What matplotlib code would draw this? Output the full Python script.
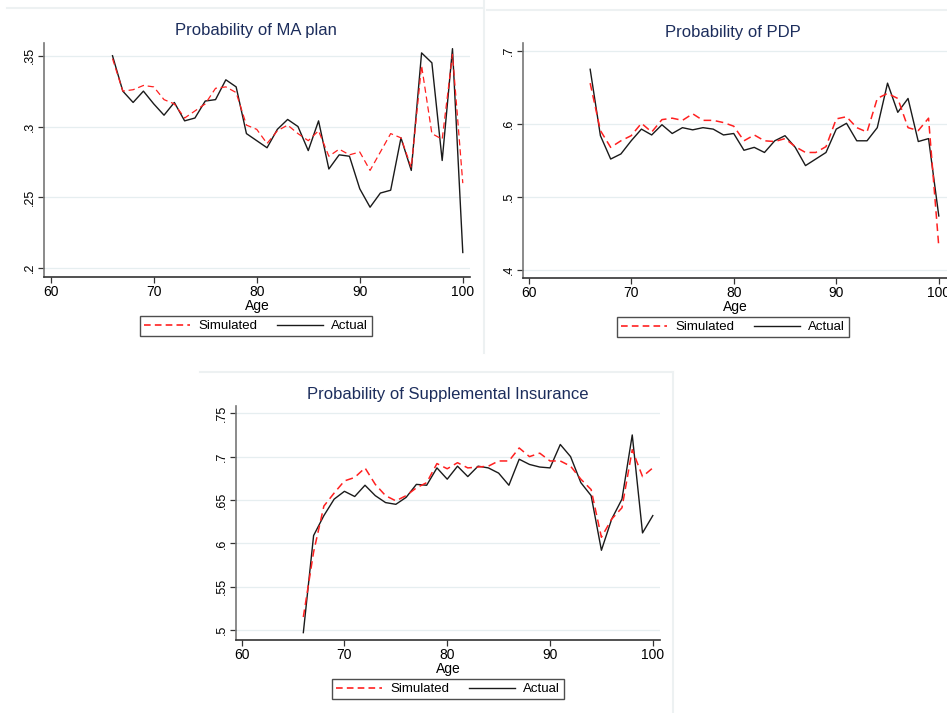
import matplotlib.pyplot as plt
from matplotlib.lines import Line2D
import numpy as np

plt.rcParams["font.family"] = ["Liberation Sans", "DejaVu Sans"]

ages = np.arange(66, 101)

ma_simulated = [.348, .325, .326, .329, .328, .319, .316, .306, .311, .316,
                .327, .328, .324, .301, .298, .288, .297, .301, .295, .290,
                .297, .279, .284, .280, .282, .269, .282, .295, .292, .271,
                .343, .295, .291, .351, .260]
ma_actual = [.350, .325, .317, .325, .316, .308, .317, .304, .306, .318,
             .319, .333, .328, .295, .290, .285, .298, .305, .300, .283,
             .304, .270, .280, .279, .256, .243, .253, .255, .292, .269,
             .352, .345, .276, .355, .211]

pdp_simulated = [.656, .591, .568, .577, .584, .601, .589, .606, .608, .605,
                 .614, .605, .605, .602, .597, .577, .585, .577, .576, .580,
                 .569, .561, .561, .569, .607, .610, .595, .589, .635, .642,
                 .635, .595, .591, .608, .432]
pdp_actual = [.675, .584, .552, .559, .577, .593, .585, .599, .587, .595,
              .592, .595, .593, .585, .587, .564, .568, .561, .577, .584,
              .568, .543, .552, .561, .593, .601, .577, .577, .595, .656,
              .616, .635, .576, .580, .474]

sup_simulated = [.515, .590, .643, .658, .672, .676, .687, .668, .655, .649,
                 .655, .664, .670, .692, .686, .693, .687, .688, .689, .695,
                 .695, .710, .700, .704, .695, .695, .689, .674, .662, .607,
                 .628, .641, .708, .677, .687]
sup_actual = [.497, .609, .632, .651, .660, .654, .667, .655, .647, .645,
              .653, .668, .667, .687, .674, .689, .677, .689, .687, .681,
              .667, .697, .691, .688, .687, .714, .700, .670, .655, .592,
              .628, .651, .725, .612, .632]

x_ticks = [60, 70, 80, 90, 100]

W, H = 947, 713
fig = plt.figure(figsize=(W / 100, H / 100), dpi=100)

TITLE_COLOR = "#1c2d5c"
RED = "#ff2020"
BLACK = "#1a1a1a"


def px_axes(left, top, right, bottom):
    return fig.add_axes([left / W, 1 - bottom / H, (right - left) / W, (bottom - top) / H])


def panel(box, title, sim, act, yticks, ylabels, xlim, ylim, legend_xy, title_y, red_lw=1.1):
    ax = px_axes(*box)
    ax.plot(ages, act, color=BLACK, lw=1.0, zorder=3)
    ax.plot(ages, sim, color=RED, lw=red_lw, ls=(0, (5, 3)), zorder=4)
    ax.set_xlim(*xlim)
    ax.set_ylim(*ylim)
    ax.set_xticks(x_ticks)
    ax.set_yticks(yticks)
    ax.set_yticklabels(ylabels, rotation=90, va="center", fontsize=9)
    ax.tick_params(axis="x", labelsize=10, length=4, width=0.9, color="#333333", pad=2)
    ax.tick_params(axis="y", length=4, width=0.9, color="#333333", pad=2)
    for s in ["top", "right"]:
        ax.spines[s].set_visible(False)
    ax.spines["left"].set_color("#777777")
    ax.spines["bottom"].set_color("#333333")
    ax.spines["left"].set_linewidth(1.2)
    ax.spines["bottom"].set_linewidth(1.2)
    ax.grid(axis="y", color="#e6eef0", lw=0.9)
    ax.set_axisbelow(True)
    ax.set_xlabel("Age", fontsize=10, labelpad=0)
    fig.text(legend_xy[0] / W, 1 - title_y / H, title, ha="center", va="center",
             fontsize=12, color=TITLE_COLOR)
    handles = [Line2D([], [], color=RED, lw=1.2, ls=(0, (4, 2.5))),
               Line2D([], [], color=BLACK, lw=1.0)]
    fig.legend(handles, ["Simulated", "Actual"], loc="center",
               bbox_to_anchor=(legend_xy[0] / W, 1 - legend_xy[1] / H),
               ncol=2, fontsize=9.5, frameon=True, fancybox=False,
               edgecolor="#222222", handlelength=3.5, columnspacing=1.5,
               handletextpad=0.6, borderpad=0.3, borderaxespad=0)
    return ax


ax1 = panel((44, 43, 470, 277), "Probability of MA plan", ma_simulated, ma_actual,
            [.2, .25, .3, .35], ["2", "25", "3", "35"],
            (59.35, 100.7), (.1937, .359), (256, 326), 30, red_lw=0.9)
ax2 = panel((523, 43, 947, 278), "Probability of PDP", pdp_simulated, pdp_actual,
            [.4, .5, .6, .7], ["4", "5", "6", "7"],
            (59.45, 100.8), (.389, .711), (733, 327), 32)
ax3 = panel((236, 406, 660, 640), "Probability of Supplemental Insurance", sup_simulated, sup_actual,
            [.5, .55, .6, .65, .7, .75], ["5", "55", "6", "65", "7", "75"],
            (59.45, 100.7), (.4885, .7584), (448, 689), 394)

# stata-style decimal labels: ".35" etc.
for ax in (ax1, ax2, ax3):
    ax.set_yticklabels(["." + t.get_text() for t in ax.get_yticklabels()],
                       rotation=90, va="center", fontsize=9)

# faint panel frames from the composite screenshot
border = dict(color="#edf1f2", lw=1.5, transform=fig.transFigure)
fig.add_artist(Line2D([7 / W, 483 / W], [1 - 8 / H, 1 - 8 / H], **border))
fig.add_artist(Line2D([484 / W, 484 / W], [1, 1 - 353 / H], **border))
fig.add_artist(Line2D([487 / W, 1], [1 - 10 / H, 1 - 10 / H], **border))
fig.add_artist(Line2D([200 / W, 673 / W], [1 - 372 / H, 1 - 372 / H], **border))
fig.add_artist(Line2D([673 / W, 673 / W], [1 - 372 / H, 0], **border))

fig.savefig("out.png", dpi=100)
